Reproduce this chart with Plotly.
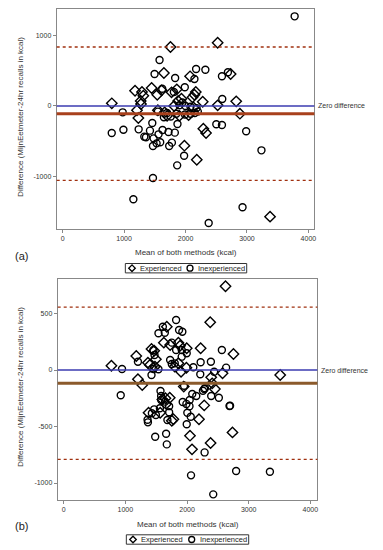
import plotly.graph_objects as go

# ---------------- data: panel (a) ----------------
a_exp_x = [1755, 2523, 1648, 2734, 2074, 1178, 1291, 1313, 1448, 1540, 1610, 1772, 1858, 2167, 2113, 2145,
           1270, 800, 1934, 1880, 2280, 2825, 1210, 1275, 2523, 1815, 2885, 1232, 2290, 2334, 1982, 2183,
           3376, 1550, 1700, 1900, 2050, 2130, 1660]
a_exp_y = [837, 898, 468, 454, 421, 217, 199, 146, 255, 160, 222, 194, 236, 199, 123, 160,
           71, 38, 104, 71, 61, 66, -61, 28, 9, 0, -109, -170, -322, -383, -563, -762,
           -1570, -60, -140, -140, -130, -20, -90]
a_inexp_x = [3776, 1577, 1496, 1831, 2172, 2323, 2593, 2690, 2145, 1621, 1810, 1988, 2598, 977, 1648, 1459,
             1869, 2501, 2593, 2987, 799, 989, 1237, 1421, 1626, 1723, 1826, 1329, 1356, 1480, 1561, 1470,
             1529, 1588, 1734, 1778, 1977, 1864, 3236, 1470, 1151, 2928, 2377, 1900, 2000, 2080, 2180, 1990,
             2080, 2150, 1550, 1700, 1760, 1850, 2200, 1950]
a_inexp_y = [1272, 652, 454, 397, 525, 515, 421, 478, 383, 245, 199, 265, 99, -90, -160, -241,
             -255, -260, -270, -359, -383, -336, -331, -350, -340, -369, -378, -435, -444, -459, -402, -567,
             -530, -515, -567, -520, -705, -842, -629, -1021, -1324, -1437, -1660, 10, 0, -10, -30, -120,
             -110, -100, -80, -100, -150, -110, -80, 50]
a_mean, a_upper, a_lower = -110, 837, -1054

# ---------------- data: panel (b) ----------------
b_exp_x = [2624, 2376, 1672, 1624, 1726, 1860, 1995, 2221, 2753, 1424, 1495, 1177, 1366, 1398, 1903, 774,
           2576, 3511, 2392, 1204, 1274, 1947, 2408, 2452, 1720, 2279, 1376, 1565, 1753, 1779, 2194, 2048,
           2737, 2382, 2081, 1887, 1468, 1480, 1860, 1990, 1600, 1650, 1660, 1800]
b_exp_y = [741, 422, 383, 242, 221, 242, 192, 192, 142, 186, 95, 124, 65, 44, -15, 38,
           -29, -44, -65, -82, -133, -147, -118, -168, -245, -313, -378, -378, -449, -436, -436, -581,
           -552, -646, -702, 215, 171, 30, 60, 20, -260, -250, -300, 30]
b_inexp_x = [1823, 1608, 1537, 1640, 1871, 1924, 1753, 1823, 1914, 1995, 1914, 2565, 1456, 1473, 1204, 1537,
             1726, 1753, 1801, 946, 2102, 2221, 2387, 2440, 2634, 2215, 925, 1570, 1581, 1645, 1930, 2043,
             2085, 2150, 2258, 2290, 2392, 2516, 2689, 1468, 1495, 1366, 1710, 1995, 2005, 2060, 2698, 1484,
             1661, 1672, 2285, 2796, 3344, 2065, 2425, 1424, 1456, 1952, 2279, 1682, 1360, 1430, 1560, 1990,
             2040, 1710, 1580]
b_inexp_y = [442, 383, 325, 330, 354, 339, 242, 177, 177, 148, 118, 177, 177, 133, 73, 6,
             88, 53, 59, 9, 24, 68, 73, -15, 21, -38, -224, -186, -265, -280, -283, -265,
             -212, -230, -183, -162, -230, -245, -319, -348, -398, -463, -374, -480, -378, -413, -316, -590,
             -564, -658, -729, -894, -900, -932, -1100, -44, 9, -139, -168, -442, -440, -383, -339, -300,
             -320, -320, -230]
b_mean, b_upper, b_lower = -118, 557, -790

x_ticks = [0, 1000, 2000, 3000, 4000]
a_y_ticks = [-1000, 0, 1000]
b_y_ticks = [-1000, -500, 0, 500]
series_names = ["Experienced", "Inexperienced"]

FONT = "Liberation Sans, Arial, sans-serif"
W, H = 383, 550

def px(x):
    return x / W

def py(y):
    return 1 - y / H

fig = go.Figure()

def add_panel(xs_e, ys_e, xs_i, ys_i, xa, ya):
    fig.add_trace(go.Scatter(x=xs_e, y=ys_e, mode="markers", name=series_names[0],
                             xaxis=xa, yaxis=ya, showlegend=False,
                             marker=dict(symbol="diamond-open", size=8, color="black",
                                         line=dict(width=1.4, color="black"))))
    fig.add_trace(go.Scatter(x=xs_i, y=ys_i, mode="markers", name=series_names[1],
                             xaxis=xa, yaxis=ya, showlegend=False,
                             marker=dict(symbol="circle-open", size=7, color="black",
                                         line=dict(width=1.4, color="black"))))

add_panel(a_exp_x, a_exp_y, a_inexp_x, a_inexp_y, "x", "y")
add_panel(b_exp_x, b_exp_y, b_inexp_x, b_inexp_y, "x2", "y2")

def hline(xref, yref, val, color, width, dash="solid"):
    fig.add_shape(type="line", xref=xref + " domain", yref=yref, x0=0, x1=1, y0=val, y1=val,
                  line=dict(color=color, width=width, dash=dash), layer="above")

for xr, yr, mean, up, lo, mcol in [("x", "y", a_mean, a_upper, a_lower, "#a8401c"),
                                  ("x2", "y2", b_mean, b_upper, b_lower, "#8b5a2b")]:
    hline(xr, yr, 0, "#3b3bb0", 1.3)
    hline(xr, yr, mean, mcol, 3)
    hline(xr, yr, up, "#a0300f", 1.3, "dot")
    hline(xr, yr, lo, "#a0300f", 1.3, "dot")

axis_common = dict(showgrid=False, zeroline=False, showline=True, linecolor="#888888", linewidth=1,
                   mirror=True, ticks="outside", ticklen=3, tickcolor="#888888",
                   tickfont=dict(family=FONT, size=7, color="#333333"))

fig.update_layout(
    width=W, height=H, margin=dict(l=0, r=0, t=0, b=0),
    paper_bgcolor="white", plot_bgcolor="white", showlegend=False,
    xaxis=dict(domain=[px(57), px(316)], range=[-97, 4097], anchor="y",
               tickvals=x_ticks, ticktext=[str(v) for v in x_ticks], **axis_common),
    yaxis=dict(domain=[py(229), py(9)], range=[-1745, 1376], anchor="x",
               tickvals=a_y_ticks, ticktext=[str(v) for v in a_y_ticks], **axis_common),
    xaxis2=dict(domain=[px(58), px(319)], range=[-97, 4113], anchor="y2",
                tickvals=x_ticks, ticktext=[str(v) for v in x_ticks], **axis_common),
    yaxis2=dict(domain=[py(500), py(279)], range=[-1150, 805], anchor="x2",
                tickvals=b_y_ticks, ticktext=[str(v) for v in b_y_ticks], **axis_common),
)

def ann(text, x, y, size=8, xanchor="center", angle=0, yref="paper", color="#333333"):
    fig.add_annotation(text=text, x=x, y=y, xref="paper", yref=yref, showarrow=False,
                       xanchor=xanchor, yanchor="middle", textangle=angle,
                       font=dict(family=FONT, size=size, color=color))

ytitle = "Difference (MijnEetmeter-24hr recalls in kcal)"
ann(ytitle, px(20), py(117), angle=-90)
ann(ytitle, px(20), py(387), angle=-90)
ann("Mean of both methods (kcal)", px(187), py(253))
ann("Mean of both methods (kcal)", px(189), py(524))
ann("(a)", px(13), py(256), size=11, xanchor="left", color="#222222")
ann("(b)", px(13), py(526), size=11, xanchor="left", color="#222222")
ann("Zero difference", px(318), 0, size=7, xanchor="left", yref="y")
ann("Zero difference", px(321), 0, size=7, xanchor="left", yref="y2")

# custom legends (box + symbols + labels), one under each panel
def legend(x0, x1, yc, dx, cx, t1, t2):
    h = 4.7
    fig.add_shape(type="rect", xref="paper", yref="paper", x0=px(x0), x1=px(x1),
                  y0=py(yc + h), y1=py(yc - h), line=dict(color="#333333", width=1))
    r = 3.3
    fig.add_shape(type="path", xref="paper", yref="paper",
                  path=f"M {px(dx - r)} {py(yc)} L {px(dx)} {py(yc - r)} L {px(dx + r)} {py(yc)} "
                       f"L {px(dx)} {py(yc + r)} Z",
                  line=dict(color="black", width=1.3))
    rc = 3.0
    fig.add_shape(type="circle", xref="paper", yref="paper", x0=px(cx - rc), x1=px(cx + rc),
                  y0=py(yc + rc), y1=py(yc - rc), line=dict(color="black", width=1.3))
    ann(series_names[0], px(t1), py(yc), size=7.5, xanchor="left", color="#222222")
    ann(series_names[1], px(t2), py(yc), size=7.5, xanchor="left", color="#222222")

legend(126, 248, 268.2, 132.7, 191, 138.5, 197.5)
legend(127, 250, 539.5, 133.7, 192.7, 139.5, 199)

fig.write_html("out.html", config={"displayModeBar": False},
               post_script="document.body.style.margin='0';document.body.style.overflow='hidden';")
